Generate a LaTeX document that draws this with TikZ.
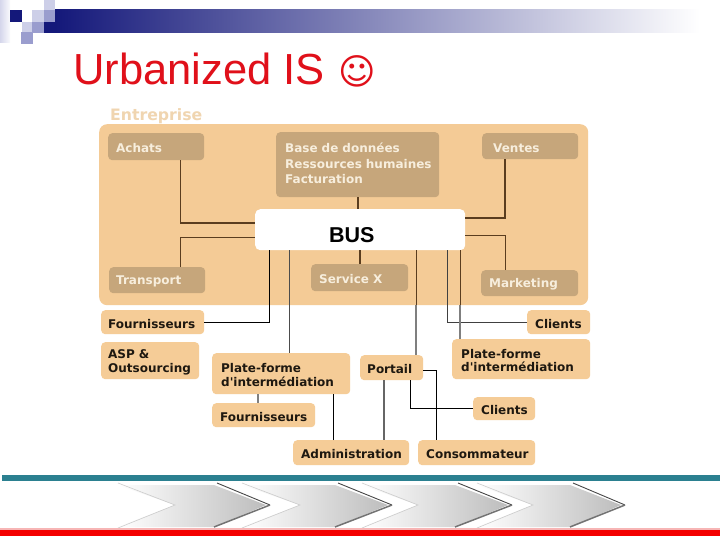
\documentclass[tikz,border=0pt]{standalone}
\usepackage{fontspec}
\setmainfont{Liberation Sans}
\newfontfamily\djv{DejaVu Sans}
\definecolor{panel}{HTML}{F4CB96}
\definecolor{darkbox}{HTML}{C6A67B}
\definecolor{lightbox}{HTML}{F5CC97}
\definecolor{creamtxt}{HTML}{F7EEDD}
\definecolor{browntxt}{HTML}{1E1810}
\definecolor{brownln}{HTML}{5A3D1F}
\definecolor{grayln}{HTML}{7F7F7F}
\definecolor{navy}{HTML}{14187A}
\definecolor{bandmid}{HTML}{B5B6CC}
\definecolor{palesq}{HTML}{CDCFE8}
\definecolor{medsq}{HTML}{9A9DCE}
\definecolor{titlered}{HTML}{E0101A}
\definecolor{tealbar}{HTML}{2B8090}
\definecolor{pinkbar}{HTML}{F7B5B5}
\definecolor{redbar}{HTML}{F40000}
\definecolor{enttxt}{HTML}{F0D5B0}
\tikzset{
  bx/.style n args={3}{anchor=north west,minimum width=#1,minimum height=#2,
     text width=#1-2*#3,inner xsep=#3,inner ysep=0pt,rounded corners=4pt,align=left,text height=12pt,
     execute at begin node={\hyphenpenalty=10000\exhyphenpenalty=10000}},
  dk/.style={fill=darkbox,text=creamtxt,font=\djv\bfseries\fontsize{12}{15.5}\selectfont},
  lt/.style={fill=lightbox,text=browntxt,font=\djv\bfseries\fontsize{12}{13.5}\selectfont},
  lnb/.style={draw=brownln,line width=1.4pt},
  lnk/.style={draw=black,line width=1.1pt},
  lng/.style={draw=grayln,line width=1.7pt},
}
\begin{document}
\begin{tikzpicture}[x=1pt,y=-1pt]
\useasboundingbox (0,0) rectangle (720,540);
\fill[white] (0,0) rectangle (720,540);
% header
\shade[left color=navy,middle color=bandmid,right color=white] (55,10) rectangle (700,33);
\fill[navy] (44,22) rectangle (55,33);
\shade[left color=palesq!85,right color=white!90!palesq] (0,0) rectangle (10,43);
\fill[navy] (10,10) rectangle (22,22);
\fill[palesq] (32,10) rectangle (44,22);
\fill[medsq] (44,10) rectangle (55,22);
\fill[palesq] (44,0) rectangle (55,10);
\fill[palesq] (22,22) rectangle (32,32);
\fill[medsq] (32,22) rectangle (44,33);
\fill[medsq] (21,32) rectangle (33,44);
\node[anchor=base west,inner sep=0pt,text=titlered,font=\fontsize{43.5}{48}\selectfont] (title) at (73,85) {Urbanized IS};
\node[anchor=base west,inner sep=0pt,text=titlered,font=\djv\fontsize{36}{40}\selectfont] (smile) at (338,85) {☺};
% panel
\node[anchor=base west,inner sep=0pt,text=enttxt,font=\djv\bfseries\fontsize{15.7}{18}\selectfont] (ent) at (110,121) {Entreprise};
\node[anchor=north west,fill=panel,rounded corners=8pt,minimum width=489,minimum height=181,inner sep=0pt] (panelbox) at (99,124) {};
% boxes
\node[bx={96}{27}{8},dk] (achats) at (108,133) {Achats};
\node[bx={163}{65}{9},dk,text height=7pt] (base) at (276,132) {Base~de~données\\Ressources~humaines\\Facturation};
\node[bx={96}{26}{11},dk] (ventes) at (482,133) {Ventes};
\node[bx={96}{26}{7},dk] (transport) at (109,267) {Transport};
\node[bx={97}{27}{8},dk] (service) at (311,264) {Service~X};
\node[bx={97}{26}{8},dk] (marketing) at (481,270) {Marketing};
\node[bx={210}{41}{74},fill=white,rounded corners=5pt,font=\bfseries\fontsize{21.5}{24}\selectfont,text=black,text height=25pt] (bus) at (255,209) {BUS};
\node[bx={103}{24}{7},lt] (fourA) at (101,310) {Fournisseurs};
\node[bx={98}{37}{7},lt] (asp) at (101,342) {ASP~\&\\Outsourcing};
\node[bx={138}{41}{9},lt] (plateL) at (212,353) {Plate-forme\\d'intermédiation};
\node[bx={103}{24}{8},lt] (fourB) at (212,403) {Fournisseurs};
\node[bx={116}{25}{8},lt] (admin) at (293,440) {Administration};
\node[bx={63}{25}{7},lt] (portail) at (360,355) {Portail};
\node[bx={63}{24}{8},lt] (clientsA) at (527,310) {Clients};
\node[bx={138}{40}{9},lt] (plateR) at (452,339) {Plate-forme\\d'intermédiation};
\node[bx={62}{23}{8},lt] (clientsB) at (473,397) {Clients};
\node[bx={117}{25}{8},lt] (conso) at (418,440) {Consommateur};
% connectors
\coordinate (b1) at ([xshift=-91]bus.south);
\coordinate (b2) at ([xshift=-71]bus.south);
\coordinate (b3) at ([xshift=56]bus.south);
\coordinate (b4) at ([xshift=87]bus.south);
\coordinate (b5) at ([xshift=100]bus.south);
\coordinate (pb) at (panelbox.south);
\draw[lnb] ([xshift=24]achats.south) |- ([yshift=6.5]bus.west);
\draw[lnb] ([xshift=23]transport.north) |- ([yshift=-7.5]bus.west);
\draw[lnb,line width=1.8pt] (base.south) -- (base.south |- bus.north);
\draw[lnb,line width=1.8pt] (service.north) -- (service.north |- bus.south);
\draw[lnb,line width=1.8pt] ([xshift=-25]ventes.south) |- ([yshift=11.5]bus.east);
\draw[lnb] ([xshift=-24.5]marketing.north) |- ([yshift=-5.5]bus.east);
\draw[lnk] (b1) |- (fourA.east);
\draw[lnb,draw=black!70] (b2) -- (b2 |- plateL.north);
\draw[lng] (b3 |- pb) -- (b3 |- portail.north);
\draw[lnb] (b3) -- (b3 |- pb);
\draw[lnb,draw=black!75] (b4) |- (clientsA.west);
\draw[lng] (b5 |- pb) -- (b5 |- plateR.north);
\draw[lnb] (b5) -- (b5 |- pb);
\draw[lng] ([xshift=-23]plateL.south) -- ([xshift=-23]plateL.south |- fourB.north);
\draw[lnk] ([xshift=-18]admin.north) -- ([xshift=-18]admin.north |- plateL.south);
\draw[lng,draw=black!60] ([xshift=-7.5]portail.south) -- ([xshift=-7.5]portail.south |- admin.north);
\draw[lnk] ([xshift=18.5]portail.south) |- (clientsB.west);
\draw[lnk] ([yshift=-2.5]portail.east) -| ([xshift=-40.5]conso.north);
% footer
\fill[tealbar] (2,475) rectangle (720,481);
\foreach \ta/\nt/\sh/\shb/\tp/\tpb in {118/175/217/214/270/266, 242/300/338/335/392/388, 362/418/458/455/512/508, 477/533/573/570/625/621}{
  \shade[left color=white,right color=black!26] (\ta,485) -- (\shb,485) -- (\tpb,505) -- (\shb,527) -- (\ta,527) -- (\nt,505) -- cycle;
  \draw[black!20,line width=.6pt] (\ta,483) -- (\nt,505) -- (\ta,528);
  \draw[black!72,line width=.9pt] (\sh,483) -- (\tp,505);
  \draw[black!55,line width=1.5pt] (\tp,505) -- (\shb,527);
}
\fill[pinkbar] (0,528) rectangle (720,530);
\fill[redbar] (0,530) rectangle (720,536);
\end{tikzpicture}
\end{document}
